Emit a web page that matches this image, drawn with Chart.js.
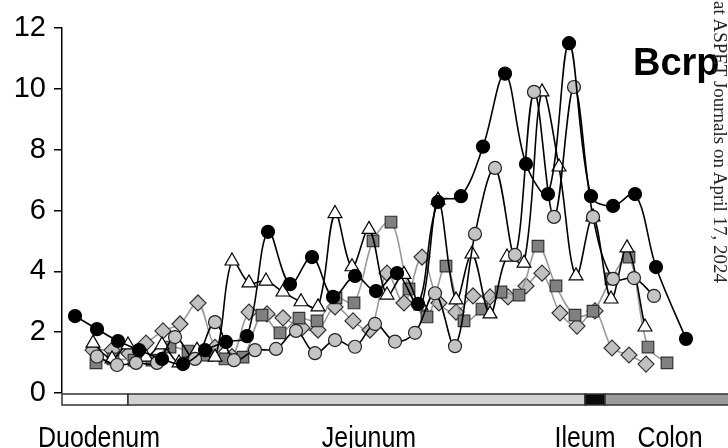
<!DOCTYPE html>
<html>
<head>
<meta charset="utf-8">
<script src="https://cdn.jsdelivr.net/npm/chart.js@4.4.1/dist/chart.umd.min.js"></script>
<style>
  html, body { margin: 0; padding: 0; background: #fff; overflow: hidden; }
  #wrap { position: relative; width: 728px; height: 448px; }
  #title {
    position: absolute; left: 633px; top: 41px;
    font: bold 38px "Liberation Sans", Arial, sans-serif; color: #000;
  }
  #stamp {
    position: absolute; left: 730px; top: 283px;
    transform-origin: 0 0; transform: rotate(90deg) translate(-100%, 0);
    white-space: nowrap;
    font: 19px "Liberation Serif", "Times New Roman", serif; color: #222;
    line-height: 20px;
  }
</style>
</head>
<body>
<div id="wrap">
  <canvas id="chart" width="728" height="448"></canvas>
  <div id="title">Bcrp</div>
  <div id="stamp">at ASPET Journals on April 17, 2024</div>
</div>
<script>
// position along the gut (arbitrary units, 0 = start of duodenum)
const blackPos = [13, 35, 56, 77, 100, 121, 143, 164, 185, 206, 228, 250, 271, 293, 314, 335, 356, 376, 399, 421, 443, 464, 486, 507, 529, 551, 573, 594, 624];
const blackVal = [2.53, 2.1, 1.71, 1.41, 1.12, 0.95, 1.41, 1.68, 1.87, 5.3, 3.58, 4.47, 3.16, 3.85, 3.35, 3.94, 2.93, 6.28, 6.47, 8.1, 10.5, 7.53, 6.54, 11.5, 6.47, 6.15, 6.54, 4.14, 1.78];

const circlePos = [35, 55, 74, 95, 113, 133, 153, 172, 193, 214, 234, 253, 273, 293, 313, 333, 353, 373, 393, 413, 433, 453, 472, 492, 512, 531, 551, 572, 592];
const circleVal = [1.2, 0.92, 0.99, 0.99, 1.84, 1.12, 2.33, 1.08, 1.41, 1.45, 2.04, 1.31, 1.74, 1.52, 2.27, 1.69, 1.98, 3.28, 1.54, 5.23, 7.4, 4.54, 9.9, 5.79, 10.06, 5.79, 3.75, 3.78, 3.19];

const trianglePos = [31, 50, 66, 84, 100, 117, 135, 153, 170, 187, 204, 221, 239, 256, 273, 290, 307, 325, 342, 359, 376, 394, 410, 428, 445, 462, 480, 497, 514, 531, 549, 565, 583];
const triangleVal = [1.64, 1.12, 1.58, 1.18, 1.58, 0.99, 1.41, 1.18, 4.34, 3.62, 3.68, 3.32, 3.0, 2.83, 5.9, 4.15, 5.38, 3.22, 3.9, 2.86, 6.34, 3.06, 4.57, 2.6, 4.47, 4.27, 9.9, 7.43, 3.85, 5.79, 3.09, 4.77, 2.17];

const squarePos = [34, 51, 72, 90, 108, 126, 145, 163, 181, 200, 218, 237, 255, 274, 292, 311, 329, 347, 365, 384, 402, 420, 439, 457, 476, 494, 513, 531, 549, 567, 586, 605];
const squareVal = [0.99, 1.12, 1.08, 1.08, 1.51, 1.38, 1.25, 1.12, 1.18, 2.56, 1.98, 2.46, 2.37, 3.13, 2.96, 5.0, 5.62, 3.42, 2.5, 4.17, 2.37, 2.76, 3.32, 3.22, 4.83, 3.52, 2.56, 2.69, 3.75, 4.47, 1.51, 0.99];

const diamondPos = [31, 50, 67, 84, 101, 118, 136, 153, 170, 187, 205, 221, 240, 256, 273, 291, 308, 325, 342, 360, 377, 394, 411, 428, 446, 464, 480, 498, 515, 533, 550, 567, 584];
const diamondVal = [1.41, 1.41, 1.3, 1.64, 2.04, 2.27, 2.96, 1.5, 1.2, 2.66, 2.6, 2.47, 2.14, 2.07, 2.83, 2.37, 2.07, 3.94, 2.96, 4.47, 2.96, 2.66, 3.19, 3.16, 3.16, 3.52, 3.94, 2.63, 2.2, 2.7, 1.48, 1.25, 0.95];

// gut segments drawn as a bar under the plot
const regionNames = ['Duodenum', 'Jejunum', 'Ileum', 'Colon'];
const regionStart = [0, 66, 523, 543];
const regionEnd = [66, 523, 543, 700];
const regionLabelPos = [37, 307, 523, 608];
const regionColors = ['#ffffff', '#d2d2d2', '#0a0a0a', '#9a9a9a'];

const yTicks = [0, 2, 4, 6, 8, 10, 12];

const pts = (xs, ys) => xs.map((x, i) => ({ x: x, y: ys[i] }));

function series(label, xs, ys, shape, radius, fill, line, border) {
    return {
        label: label,
        data: pts(xs, ys),
        borderColor: line,
        borderWidth: 1.6,
        pointStyle: shape,
        pointRadius: radius,
        pointBackgroundColor: fill,
        pointBorderColor: border,
        pointBorderWidth: 1.2,
        tension: 0.35
    };
}

const gutBar = {
    id: 'gutBar',
    afterDraw(chart) {
        const ctx = chart.ctx;
        const x = chart.scales.x;
        const top = chart.chartArea.bottom + 1;
        const h = 11;
        ctx.save();
        regionNames.forEach((name, i) => {
            const x0 = x.getPixelForValue(regionStart[i]);
            const x1 = x.getPixelForValue(regionEnd[i]);
            ctx.fillStyle = regionColors[i];
            ctx.fillRect(x0, top, x1 - x0, h);
            ctx.strokeStyle = '#333';
            ctx.lineWidth = 1.5;
            ctx.strokeRect(x0, top, x1 - x0, h);
        });
        ctx.fillStyle = '#000';
        ctx.font = '29px "Liberation Sans", Arial, sans-serif';
        ctx.textAlign = 'center';
        ctx.textBaseline = 'alphabetic';
        regionNames.forEach((name, i) => {
            const cx = x.getPixelForValue(regionLabelPos[i]);
            ctx.save();
            ctx.translate(cx, 447);
            ctx.scale(0.86, 1);
            ctx.fillText(name, 0, 0);
            ctx.restore();
        });
        ctx.restore();
    }
};

new Chart(document.getElementById('chart').getContext('2d'), {
    type: 'line',
    data: {
        datasets: [
            series('black', blackPos, blackVal, 'circle', 6.5, '#000000', '#000000', '#000000'),
            series('grey circle', circlePos, circleVal, 'circle', 6.5, '#c4c4c4', '#000000', '#222222'),
            series('triangle', trianglePos, triangleVal, 'triangle', 8, '#ffffff', '#000000', '#000000'),
            series('square', squarePos, squareVal, 'rect', 8.2, '#808080', '#9a9a9a', '#333333'),
            series('diamond', diamondPos, diamondVal, 'rectRot', 8, '#c0c0c0', '#9a9a9a', '#333333')
        ]
    },
    options: {
        responsive: false,
        animation: false,
        events: [],
        layout: { autoPadding: false, padding: { top: 28, right: 0, bottom: 55, left: 0 } },
        plugins: {
            legend: { display: false },
            tooltip: { enabled: false }
        },
        scales: {
            x: {
                type: 'linear',
                min: 0,
                max: 666,
                display: false
            },
            y: {
                min: 0,
                max: 12,
                afterFit: (scale) => { scale.width = 62; },
                afterBuildTicks: (scale) => { scale.ticks = yTicks.map(v => ({ value: v })); },
                ticks: {
                    color: '#000',
                    padding: 8,
                    font: { size: 29, family: '"Liberation Sans", Arial, sans-serif' }
                },
                grid: {
                    drawOnChartArea: false,
                    drawTicks: true,
                    tickLength: 8,
                    color: '#000',
                    lineWidth: 1.5
                },
                border: { display: true, color: '#000', width: 1.5 }
            }
        }
    },
    plugins: [gutBar]
});
</script>
</body>
</html>
